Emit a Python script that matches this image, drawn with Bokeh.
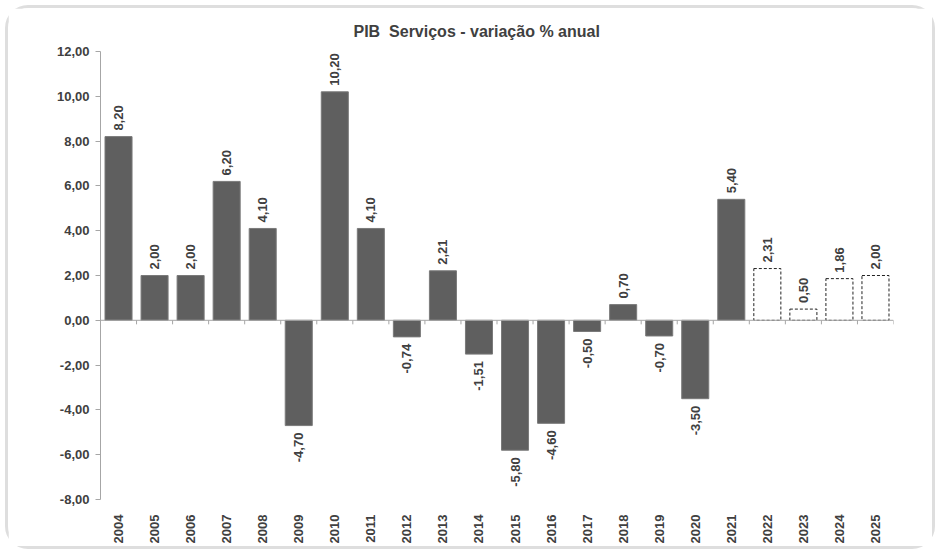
import math
from bokeh.plotting import figure
from bokeh.models import ColumnDataSource, FactorRange, Range1d, Span, FixedTicker, CustomJSTickFormatter
from bokeh.transform import dodge
from bokeh.core.properties import value
from bokeh.embed import file_html
from bokeh.resources import INLINE

years = [str(y) for y in range(2004, 2026)]
values = [8.20, 2.00, 2.00, 6.20, 4.10, -4.70, 10.20, 4.10, -0.74, 2.21, -1.51,
          -5.80, -4.60, -0.50, 0.70, -0.70, -3.50, 5.40, 2.31, 0.50, 1.86, 2.00]
forecast_years = ["2022", "2023", "2024", "2025"]
y_ticks = [-8, -6, -4, -2, 0, 2, 4, 6, 8, 10, 12]

FONT = "Liberation Sans"
TXT = "#404040"

def fmt(v):
    return f"{v:.2f}".replace(".", ",")

hist = [(y, v) for y, v in zip(years, values) if y not in forecast_years]
fc = [(y, v) for y, v in zip(years, values) if y in forecast_years]

src_hist = ColumnDataSource(dict(year=[a for a, b in hist], value=[b for a, b in hist]))
src_fc = ColumnDataSource(dict(year=[a for a, b in fc], value=[b for a, b in fc]))
src_pos = ColumnDataSource(dict(year=[y for y, v in zip(years, values) if v >= 0],
                                value=[v for v in values if v >= 0],
                                label=[fmt(v) for v in values if v >= 0]))
src_neg = ColumnDataSource(dict(year=[y for y, v in zip(years, values) if v < 0],
                                value=[v for v in values if v < 0],
                                label=[fmt(v) for v in values if v < 0]))
src_ticks = ColumnDataSource(dict(year=years))
src_last = ColumnDataSource(dict(year=[years[-1]]))

p = figure(frame_width=793, frame_height=448, output_backend="svg", toolbar_location=None,
           x_range=FactorRange(*years, range_padding=0), y_range=Range1d(-8, 12),
           min_border_left=92, min_border_right=39, min_border_top=43, min_border_bottom=42)

p.title.text = "PIB\u00a0 Serviços - variação % anual"
p.title.text_font = FONT
p.title.text_font_size = "16px"
p.title.text_font_style = "bold"
p.title.text_color = TXT
p.title.align = "left"
p.title.offset = 253
p.title.standoff = 23

p.outline_line_color = None
p.xgrid.grid_line_color = None
p.ygrid.grid_line_color = None
p.background_fill_color = "white"
p.border_fill_color = "white"
p.styles = {"margin": "8px", "outline": "3px solid #dedede", "border-radius": "20px"}

p.vbar(x="year", top="value", width=0.75, source=src_hist,
       fill_color="#5f5f5f", line_color="#7a7a7a", line_width=1)
p.vbar(x="year", top="value", width=0.75, source=src_fc,
       fill_color="white", line_color="#222222", line_width=1, line_dash="3 2")

zero = Span(location=0, dimension="width", line_color="#a6a6a6", line_width=1)
p.add_layout(zero)
p.segment(x0=dodge("year", -0.5, range=p.x_range), y0=0,
          x1=dodge("year", -0.5, range=p.x_range), y1=-0.18,
          source=src_ticks, line_color="#a6a6a6", line_width=1)
p.segment(x0=dodge("year", 0.5, range=p.x_range), y0=0,
          x1=dodge("year", 0.5, range=p.x_range), y1=-0.18,
          source=src_last, line_color="#a6a6a6", line_width=1)

common = dict(angle=math.pi / 2, text_font=value(FONT), text_font_size="13px",
              text_font_style="bold", text_color=TXT, text_baseline="middle")
p.text(x="year", y="value", text="label", source=src_pos, text_align="left",
       x_offset=0, y_offset=-6, **common)
p.text(x="year", y="value", text="label", source=src_neg, text_align="right",
       x_offset=0, y_offset=7, **common)

ya = p.yaxis[0]
ya.ticker = FixedTicker(ticks=y_ticks)
ya.formatter = CustomJSTickFormatter(code="return tick.toFixed(2).replace('.', ',');")
ya.axis_line_color = "#a6a6a6"
ya.major_tick_line_color = "#a6a6a6"
ya.major_tick_out = 5
ya.major_tick_in = 0
ya.minor_tick_line_color = None
ya.major_label_text_font = FONT
ya.major_label_text_font_size = "13px"
ya.major_label_text_font_style = "bold"
ya.major_label_text_color = TXT
ya.major_label_standoff = 6

xa = p.xaxis[0]
xa.axis_line_color = None
xa.major_tick_line_color = None
xa.minor_tick_line_color = None
xa.major_label_orientation = math.pi / 2
xa.major_label_text_font = FONT
xa.major_label_text_font_size = "13px"
xa.major_label_text_font_style = "bold"
xa.major_label_text_color = TXT
xa.major_label_standoff = 9

open("out.html", "w").write(file_html(p, INLINE))
